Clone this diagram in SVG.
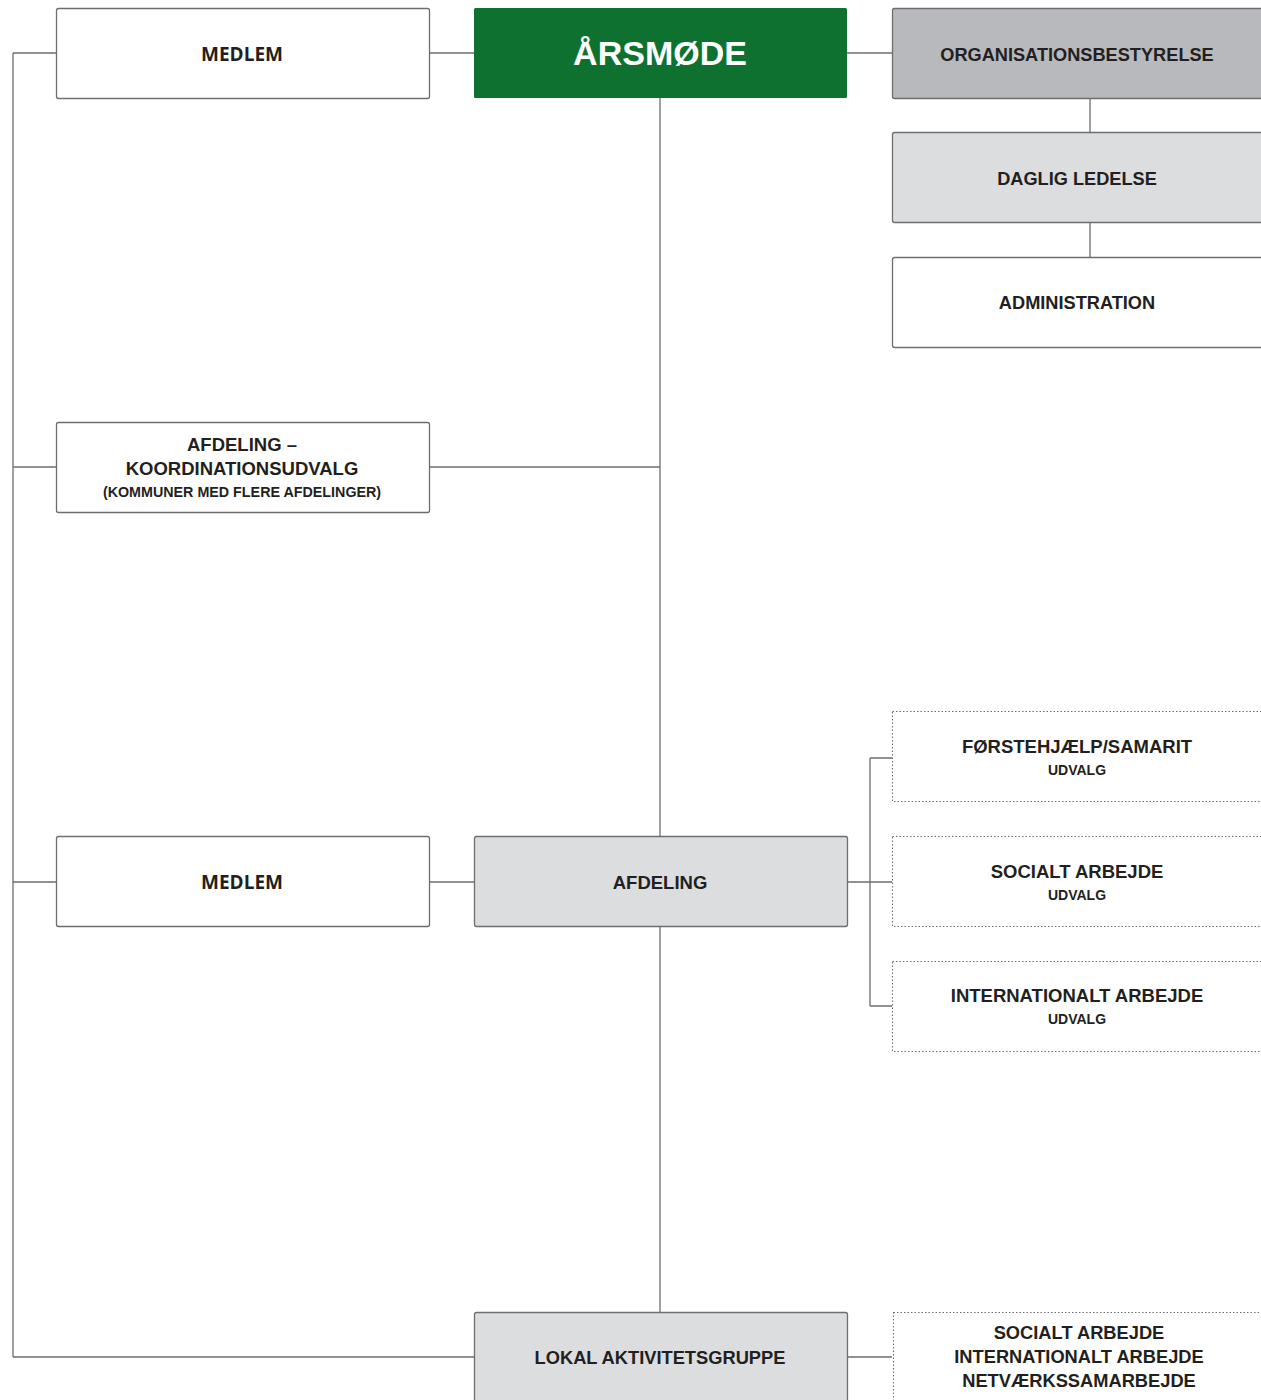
<svg xmlns="http://www.w3.org/2000/svg" width="1261" height="1400" viewBox="0 0 1261 1400">
<style>
.box{stroke:#6d6e70;stroke-width:1.3}
.w{fill:#ffffff}
.g1{fill:#b8b9bc}
.g2{fill:#dcdddf}
.dot{fill:#ffffff;stroke:#6d6e70;stroke-width:1.1;stroke-dasharray:1.5 2}
.t{font-family:"Liberation Sans",Arial,sans-serif;font-weight:bold;fill:#231f20;text-anchor:middle}
.o{font-family:"Open Sans",sans-serif;font-weight:bold;fill:#231f20;text-anchor:middle}
.c{stroke:#6d6e70;stroke-width:1.3;fill:none}
</style>
<rect width="1261" height="1400" fill="#ffffff"/>
<g id="connectors">
<path class="c" d="M13 53V1357M13 53H56M13 467H56M13 882H56M13 1357H474"/>
<path class="c" d="M430 53H474M847 53H892M660 98V836M660 927V1312M430 467H660M430 882H474"/>
<path class="c" d="M1090 98V132M1090 223V257"/>
<path class="c" d="M847 882H870M870 758V1006M870 758H892M870 882H892M870 1006H892M847 1357H892"/>
</g>
<g id="medlem1"><rect class="box w" x="56.5" y="8.5" width="373" height="90" rx="2"/><text class="o" x="242" y="61" font-size="19">MEDLEM</text></g>
<g id="arsmode"><rect x="474" y="8" width="373" height="90" rx="1.5" fill="#0e7130"/><text class="t" x="660" y="65" font-size="34" style="fill:#ffffff">ÅRSMØDE</text></g>
<g id="org"><rect class="box g1" x="892.5" y="8.5" width="380" height="90" rx="2"/><text class="t" x="1077" y="61" font-size="18.2">ORGANISATIONSBESTYRELSE</text></g>
<g id="daglig"><rect class="box g2" x="892.5" y="132.5" width="380" height="90" rx="2"/><text class="t" x="1077" y="185" font-size="18.2">DAGLIG LEDELSE</text></g>
<g id="admin"><rect class="box w" x="892.5" y="257.5" width="380" height="90" rx="2"/><text class="t" x="1077" y="309" font-size="18.2">ADMINISTRATION</text></g>
<g id="koord"><rect class="box w" x="56.5" y="422.5" width="373" height="90" rx="2"/><text class="t" x="242" y="451" font-size="18.5">AFDELING –</text><text class="t" x="242" y="475" font-size="18.5">KOORDINATIONSUDVALG</text><text class="t" x="242" y="497" font-size="14.3">(KOMMUNER MED FLERE AFDELINGER)</text></g>
<g id="medlem2"><rect class="box w" x="56.5" y="836.5" width="373" height="90" rx="2"/><text class="o" x="242" y="889" font-size="19">MEDLEM</text></g>
<g id="afdeling"><rect class="box g2" x="474.5" y="836.5" width="373" height="90" rx="2"/><text class="t" x="660" y="889" font-size="18.5">AFDELING</text></g>
<g id="forstehjaelp"><rect class="dot" x="892.5" y="711.5" width="380" height="90"/><text class="t" x="1077" y="753" font-size="18.5">FØRSTEHJÆLP/SAMARIT</text><text class="t" x="1077" y="775" font-size="14">UDVALG</text></g>
<g id="socialt"><rect class="dot" x="892.5" y="836.5" width="380" height="90"/><text class="t" x="1077" y="878" font-size="18.5">SOCIALT ARBEJDE</text><text class="t" x="1077" y="900" font-size="14">UDVALG</text></g>
<g id="international"><rect class="dot" x="892.5" y="961.5" width="380" height="90"/><text class="t" x="1077" y="1002" font-size="18.5">INTERNATIONALT ARBEJDE</text><text class="t" x="1077" y="1024" font-size="14">UDVALG</text></g>
<g id="lokal"><rect class="box g2" x="474.5" y="1312.5" width="373" height="100" rx="2"/><text class="t" x="660" y="1364" font-size="18.3">LOKAL AKTIVITETSGRUPPE</text></g>
<g id="lokal-aktiviteter"><rect class="dot" x="893.5" y="1312.5" width="380" height="100"/><text class="t" x="1079" y="1339" font-size="18.3">SOCIALT ARBEJDE</text><text class="t" x="1079" y="1363" font-size="18.3">INTERNATIONALT ARBEJDE</text><text class="t" x="1079" y="1387" font-size="18.3">NETVÆRKSSAMARBEJDE</text></g>
</svg>
